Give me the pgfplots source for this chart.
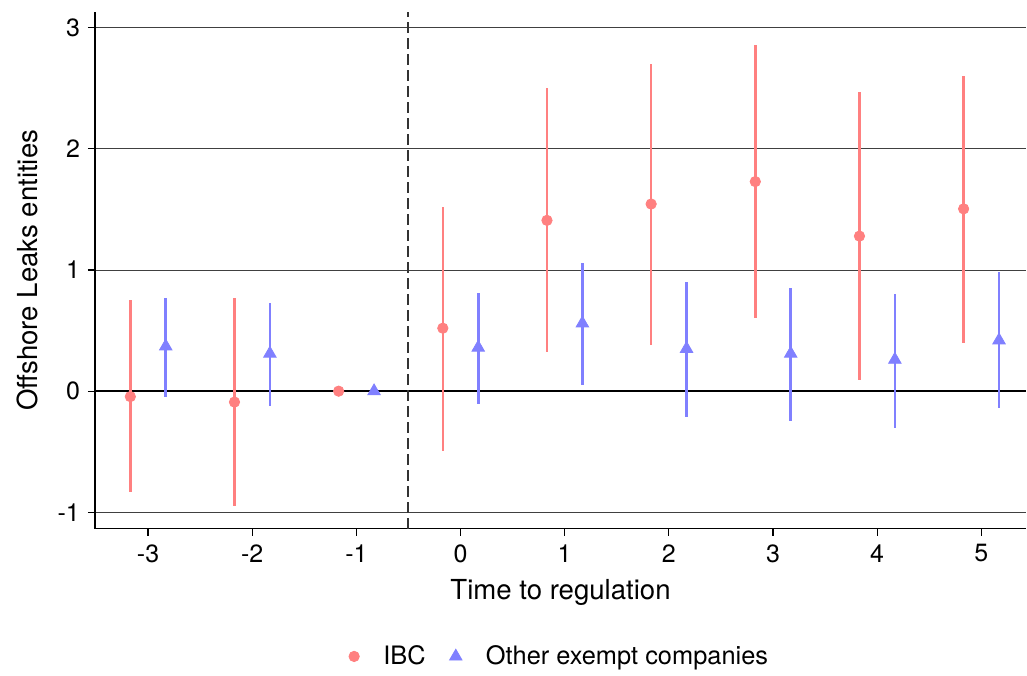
\documentclass[border=0pt]{standalone}
\usepackage{pgfplots}
\pgfplotsset{compat=1.18}
\usepackage{pgfplotstable}
\usepackage{fontspec}
\setmainfont{TeX Gyre Heros}
\definecolor{ibc}{RGB}{255,128,128}
\definecolor{oth}{RGB}{128,128,255}
\pgfplotstableread{
x y lo hi
-3.17 -0.045 -0.83 0.75
-2.17 -0.09 -0.95 0.77
-1.17 0 0 0
-0.17 0.52 -0.49 1.52
0.83 1.41 0.32 2.50
1.83 1.545 0.38 2.70
2.83 1.73 0.60 2.86
3.83 1.28 0.095 2.47
4.83 1.505 0.40 2.60
}\ibcdata
\pgfplotstableread{
x y lo hi
-2.83 0.37 -0.045 0.77
-1.83 0.31 -0.12 0.73
-0.83 0 0 0
0.17 0.36 -0.11 0.81
1.17 0.56 0.05 1.06
2.17 0.35 -0.21 0.90
3.17 0.31 -0.25 0.85
4.17 0.26 -0.30 0.80
5.17 0.42 -0.14 0.98
}\othdata
\begin{document}
\begin{tikzpicture}
\begin{axis}[
  scale only axis, width=466bp, height=258.5bp,
  xmin=-3.51, xmax=5.43, ymin=-1.134, ymax=3.13,
  axis x line*=bottom, axis y line*=left,
  axis line style={black, line width=0.6bp, -},
  xtick={-3,...,5}, ytick={-1,0,1,2,3},
  tick align=outside, major tick length=3.5bp,
  tick style={black, line width=0.6bp},
  ymajorgrids, grid style={black!75, line width=0.5bp},
  /pgf/number format/assume math mode=true,
  ticklabel style={font=\fontsize{12.5bp}{14bp}\selectfont},
  xticklabel style={yshift=-1bp},
  yticklabel style={xshift=-0.5bp},
  xlabel={Time to regulation}, ylabel={Offshore Leaks entities},
  label style={font=\fontsize{13.8bp}{16bp}\selectfont},
  xlabel style={at={(axis description cs:0.5,0)}, anchor=center, yshift=-32bp},
  ylabel style={at={(axis description cs:0,0.5)}, anchor=center, rotate=0, xshift=0bp},
  every axis y label/.append style={at={(axis description cs:0,0.5)}, yshift=34bp},
  legend style={at={(axis description cs:0.5,0)}, anchor=center, yshift=-64bp, draw=none,
    font=\fontsize{12.7bp}{15bp}\selectfont, column sep=10bp},
  legend columns=2,
  legend cell align=left,
  clip=false,
]
\draw[black, line width=0.9bp] (axis cs:-3.51,0) -- (axis cs:5.43,0);
\draw[black!80, line width=1bp, dash pattern=on 5.5bp off 2.5bp] (axis cs:-0.5,-1.134) -- (axis cs:-0.5,3.13);
\addplot[only marks, ibc, mark=*, mark size=2.6bp, mark options={fill=ibc, draw=ibc},
  error bars/.cd, y dir=both, y explicit, error mark=none,
  error bar style={line width=1.3bp, ibc}]
  table[x=x, y=y, y error plus expr=\thisrow{hi}-\thisrow{y}, y error minus expr=\thisrow{y}-\thisrow{lo}] {\ibcdata};
\addlegendentry{IBC}
\addplot[only marks, oth, mark=triangle*, mark size=3.6bp, mark options={fill=oth, draw=oth},
  error bars/.cd, y dir=both, y explicit, error mark=none,
  error bar style={line width=1.3bp, oth}]
  table[x=x, y=y, y error plus expr=\thisrow{hi}-\thisrow{y}, y error minus expr=\thisrow{y}-\thisrow{lo}] {\othdata};
\addlegendentry{Other exempt companies}
\end{axis}
\path[use as bounding box] (-47.5bp,-70.5bp) rectangle (466bp,264.5bp);
\end{tikzpicture}
\end{document}
